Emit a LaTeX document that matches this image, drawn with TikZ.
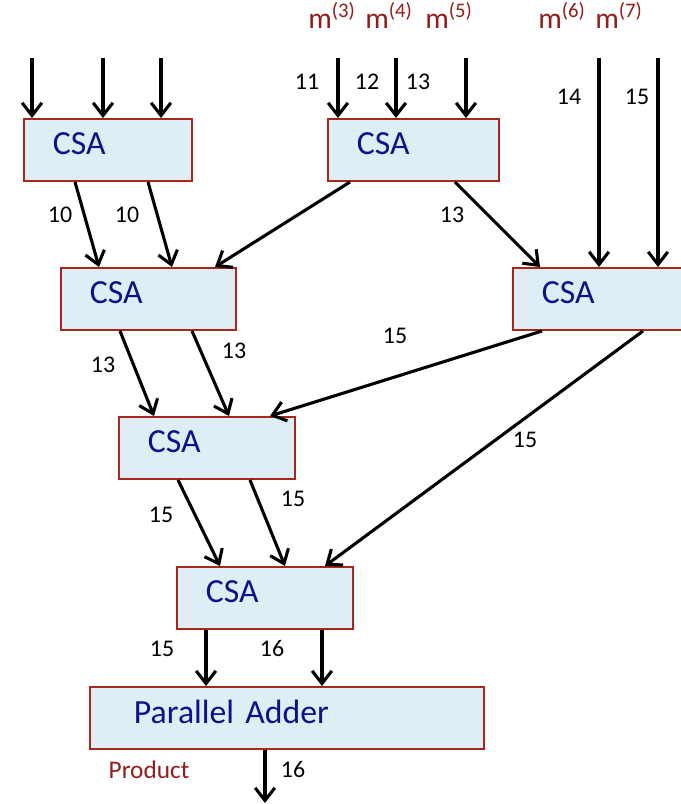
\documentclass[tikz,border=0pt]{standalone}
\usepackage{fontspec}
\setmainfont{Carlito}
\usetikzlibrary{arrows.meta,positioning}
\definecolor{MulRed}  {HTML}{A8261C}
\definecolor{MulText} {HTML}{941C1C}
\definecolor{MulFill} {HTML}{DFEEF5}
\definecolor{MulNavy} {HTML}{10108C}

\begin{document}
\begin{tikzpicture}[x=0.025cm,y=-0.025cm,
    csa/.style={draw=MulRed,line width=1.4pt,fill=MulFill,text=MulNavy,
      font=\fontsize{24}{28}\selectfont,anchor=north west,align=left,
      minimum height=44.1pt,inner xsep=20.6pt,text depth=8.5pt},
    arr/.style={-{Straight Barb[length=9pt,width=14pt]},line width=2.2pt,black},
    num/.style={font=\fontsize{17}{20}\selectfont,text=black},
    mlab/.style={font=\fontsize{21}{24}\selectfont,text=MulText,anchor=base west,inner sep=0pt}
  ]
    \useasboundingbox (0,0) rectangle (680,804);
    % adder tree
    \node[csa,text width=78.3pt] (c1) at (23,118)  {CSA};
    \node[csa,text width=80.4pt] (c2) at (327,118) {CSA};
    \node[csa,text width=83.3pt] (c3) at (60,267)  {CSA};
    \node[csa,text width=83.3pt] (c4) at (512,267) {CSA};
    \node[csa,text width=84pt]   (c5) at (118,416) {CSA};
    \node[csa,text width=84pt]   (c6) at (176,566) {CSA};
    \node[csa,text width=217.7pt,inner xsep=31.3pt] (pa) at (89,686) {Parallel Adder};
    % multiples on top
    \node[mlab] (m3) at (308,28) {m\textsuperscript{(3)}};
    \node[mlab] (m4) at (365,28) {m\textsuperscript{(4)}};
    \node[mlab] (m5) at (425,28) {m\textsuperscript{(5)}};
    \node[mlab] (m6) at (538,28) {m\textsuperscript{(6)}};
    \node[mlab] (m7) at (595,28) {m\textsuperscript{(7)}};
    % inputs
    \foreach \x in {32,103,161}{
      \coordinate (in\x) at (\x,58);
      \draw[arr] (in\x) -- (c1.north -| in\x);
    }
    \foreach \x in {338,396,466}{
      \coordinate (in\x) at (\x,58);
      \draw[arr] (in\x) -- (c2.north -| in\x);
    }
    \foreach \x in {599,658}{
      \coordinate (in\x) at (\x,58);
      \draw[arr] (in\x) -- (c4.north -| in\x);
    }
    % between the stages
    \draw[arr] (c1.south -| 75,0)  -- (c3.north -| 99,0);
    \draw[arr] (c1.south -| 148,0) -- (c3.north -| 172,0);
    \draw[arr] (c2.south -| 350,0) -- (c3.north -| 215,0);
    \draw[arr] (c2.south -| 455,0) -- (c4.north -| 540,0);
    \draw[arr] (c3.south -| 120,0) -- (c5.north -| 154,0);
    \draw[arr] (c3.south -| 192,0) -- (c5.north -| 229,0);
    \draw[arr] (c4.south -| 542,0) -- (c5.north -| 270,0);
    \draw[arr] (c4.south -| 643,0) -- (c6.north -| 325,0);
    \draw[arr] (c5.south -| 178,0) -- (c6.north -| 220,0);
    \draw[arr] (c5.south -| 250,0) -- (c6.north -| 285,0);
    \draw[arr] (c6.south -| 206,0) -- (pa.north -| 206,0);
    \draw[arr] (c6.south -| 322,0) -- (pa.north -| 322,0);
    \coordinate (out) at (265,803);
    \draw[arr] (pa.south -| out) -- (out);
    % widths
    \node[num] (w11)  at (307,82)  {11};
    \node[num] (w12)  at (367,82)  {12};
    \node[num] (w13)  at (418,82)  {13};
    \node[num] (w14)  at (569,97)  {14};
    \node[num] (w15)  at (637,97)  {15};
    \node[num] (w10a) at (60,215)  {10};
    \node[num] (w10b) at (127,215) {10};
    \node[num] (w13c) at (452,215) {13};
    \node[num] (w15d) at (395,336) {15};
    \node[num] (w13e) at (103,365) {13};
    \node[num] (w13f) at (234,351) {13};
    \node[num] (w15g) at (525,440) {15};
    \node[num] (w15h) at (161,515) {15};
    \node[num] (w15i) at (293,499) {15};
    \node[num] (w15j) at (162,649) {15};
    \node[num] (w16k) at (272,649) {16};
    \node[num] (w16o) at (293,770) {16};
    \node[font=\fontsize{18}{22}\selectfont,text=MulText] (prod) at (149,770) {Product};
\end{tikzpicture}
\end{document}
